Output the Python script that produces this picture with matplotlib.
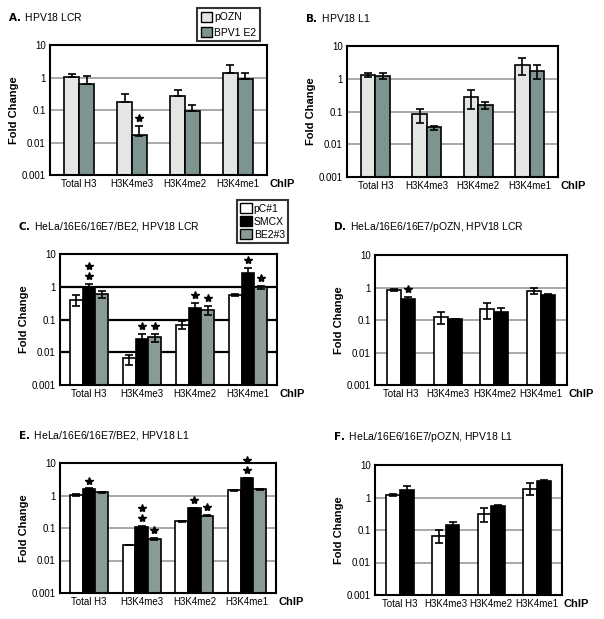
import numpy as np
import matplotlib.pyplot as plt
from matplotlib.ticker import FixedLocator

plt.rcParams['font.family'] = ['Liberation Sans', 'DejaVu Sans']

chip = ['Total H3', 'H3K4me3', 'H3K4me2', 'H3K4me1']
ytick_vals = [0.001, 0.01, 0.1, 1, 10]
ytick_labels = ['0.001', '0.01', '0.1', '1', '10']

# A. HPV18 LCR (pOZN / BPV1 E2), error = upper end of bar
a_names = ['pOZN', 'BPV1 E2']
a_vals = [[1.05, 0.18, 0.27, 1.4], [0.65, 0.016, 0.09, 0.9]]
a_lo = [[1.05, 0.18, 0.27, 1.4], [0.65, 0.016, 0.09, 0.9]]
a_hi = [[1.3, 0.3, 0.42, 2.4], [1.15, 0.032, 0.14, 1.4]]
a_star = [[0, 0, 0, 0], [0, 1, 0, 0]]

# B. HPV18 L1
b_vals = [[1.3, 0.08, 0.28, 2.6], [1.2, 0.032, 0.16, 1.7]]
b_lo = [[1.15, 0.045, 0.12, 1.3], [0.95, 0.028, 0.12, 1.0]]
b_hi = [[1.45, 0.12, 0.45, 4.3], [1.5, 0.036, 0.2, 2.6]]
b_star = [[0, 0, 0, 0], [0, 0, 0, 0]]

# C. HeLa/16E6/16E7/BE2, HPV18 LCR
c_names = ['pC#1', 'SMCX', 'BE2#3']
c_vals = [[0.38, 0.0055, 0.065, 0.55], [1.0, 0.024, 0.23, 2.7], [0.62, 0.028, 0.19, 0.95]]
c_lo = [[0.25, 0.004, 0.05, 0.52], [0.85, 0.016, 0.15, 1.8], [0.45, 0.02, 0.14, 0.85]]
c_hi = [[0.55, 0.008, 0.09, 0.58], [1.2, 0.035, 0.33, 3.7], [0.75, 0.037, 0.26, 1.05]]
c_star = [[0, 0, 0, 0], [2, 1, 1, 1], [0, 1, 1, 1]]

# D. HeLa/16E6/16E7/pOZN, HPV18 LCR
d_vals = [[0.85, 0.12, 0.21, 0.8], [0.45, 0.105, 0.17, 0.6]]
d_lo = [[0.8, 0.075, 0.11, 0.65], [0.4, 0.1, 0.1, 0.55]]
d_hi = [[0.9, 0.18, 0.33, 0.95], [0.5, 0.11, 0.23, 0.65]]
d_star = [[0, 0, 0, 0], [1, 0, 0, 0]]

# E. HeLa/16E6/16E7/BE2, HPV18 L1
e_vals = [[1.05, 0.03, 0.16, 1.45], [1.6, 0.11, 0.4, 3.4], [1.25, 0.045, 0.24, 1.55]]
e_lo = [[1.0, 0.03, 0.15, 1.4], [1.55, 0.105, 0.38, 3.3], [1.2, 0.042, 0.23, 1.5]]
e_hi = [[1.1, 0.03, 0.17, 1.5], [1.65, 0.115, 0.42, 3.5], [1.3, 0.048, 0.25, 1.6]]
e_star = [[0, 0, 0, 0], [1, 2, 1, 2], [0, 1, 1, 0]]

# F. HeLa/16E6/16E7/pOZN, HPV18 L1
f_vals = [[1.2, 0.065, 0.32, 1.8], [1.65, 0.14, 0.55, 3.3]]
f_lo = [[1.15, 0.04, 0.18, 1.2], [1.2, 0.11, 0.5, 3.1]]
f_hi = [[1.25, 0.1, 0.48, 2.7], [2.2, 0.18, 0.6, 3.5]]
f_star = [[0, 0, 0, 0], [0, 0, 0, 0]]

col_ab = ['#e4e6e4', '#7e9490']
col_c = ['white', 'black', '#8a9a97']
col_d = ['white', 'black']


def panel(rect, title, vals, lo, hi, stars, colors, grid_color, width):
    ax = fig.add_axes(rect)
    x = np.arange(len(chip))
    n = len(vals)
    for g in [1, 0.1, 0.01]:
        ax.axhline(g, color=grid_color, lw=1.6 if grid_color == 'black' else 1.2, zorder=0)
    for i in range(n):
        xs = x + (i - (n - 1) / 2) * width
        v = np.array(vals[i])
        ax.bar(xs, v, width=width, bottom=0.001, color=colors[i], edgecolor='black',
               linewidth=1.2, zorder=2)
        err = [v - np.array(lo[i]), np.array(hi[i]) - v]
        ax.errorbar(xs, v, yerr=err, fmt='none', ecolor='black', elinewidth=1.2,
                    capsize=3, capthick=1.2, zorder=3)
        for j in range(len(chip)):
            for k in range(stars[i][j]):
                ax.plot(xs[j], hi[i][j] * 1.75 * (2.0 ** k), marker='*', color='black',
                        markersize=6, zorder=4, clip_on=False)
    ax.set_yscale('log')
    ax.set_ylim(0.001, 10)
    ax.set_xlim(-0.55, 3.55)
    ax.yaxis.set_major_locator(FixedLocator(ytick_vals))
    ax.set_yticklabels(ytick_labels)
    ax.yaxis.set_minor_locator(FixedLocator([]))
    ax.set_xticks(x)
    ax.set_xticklabels(chip)
    ax.tick_params(length=0, labelsize=7, pad=3)
    for s in ax.spines.values():
        s.set_linewidth(1.5)
    ax.set_ylabel('Fold Change', fontsize=8, fontweight='bold', labelpad=2)
    ax.text(1.01, -0.07, 'ChIP', transform=ax.transAxes, fontsize=8, fontweight='bold',
            ha='left', va='center')
    fig.text(rect[0] - 0.07, rect[1] + rect[3] + 0.045, title, fontsize=7.5,
             ha='left', va='center')
    return ax


fig = plt.figure(figsize=(6.04, 6.19), dpi=100)
W, H = 604, 619


def r(x0, y0, x1, y1):
    return [x0 / W, 1 - y1 / H, (x1 - x0) / W, (y1 - y0) / H]


axA = panel(r(50, 45, 267, 175), r'$\bf{A.}$ HPV18 LCR', a_vals, a_lo, a_hi, a_star,
            col_ab, '#9a9a9a', 0.28)
axB = panel(r(347, 46, 558, 177), r'$\bf{B.}$ HPV18 L1', b_vals, b_lo, b_hi, b_star,
            col_ab, '#9a9a9a', 0.28)
axC = panel(r(60, 254, 277, 385), r'$\bf{C.}$ HeLa/16E6/16E7/BE2, HPV18 LCR', c_vals, c_lo,
            c_hi, c_star, col_c, 'black', 0.24)
axD = panel(r(375, 255, 567, 385), r'$\bf{D.}$ HeLa/16E6/16E7/pOZN, HPV18 LCR', d_vals,
            d_lo, d_hi, d_star, col_d, '#9a9a9a', 0.3)
axE = panel(r(60, 463, 276, 593), r'$\bf{E.}$ HeLa/16E6/16E7/BE2, HPV18 L1', e_vals, e_lo,
            e_hi, e_star, col_c, '#9a9a9a', 0.24)
axF = panel(r(375, 465, 562, 595), r'$\bf{F.}$ HeLa/16E6/16E7/pOZN, HPV18 L1', f_vals,
            f_lo, f_hi, f_star, col_d, '#9a9a9a', 0.3)

# legends
legA = fig.legend([plt.Rectangle((0, 0), 1, 1, fc=c, ec='black') for c in col_ab], a_names,
                  loc='upper left', bbox_to_anchor=(197 / W, 1 - 8 / H), fontsize=7.5,
                  frameon=True, fancybox=False, edgecolor='black', handlelength=1.1,
                  handleheight=1.2, handletextpad=0.2, borderpad=0.35, labelspacing=0.4,
                  borderaxespad=0)
legA.get_frame().set_linewidth(1.5)
legC = fig.legend([plt.Rectangle((0, 0), 1, 1, fc=c, ec='black') for c in col_c], c_names,
                  loc='upper left', bbox_to_anchor=(237 / W, 1 - 200 / H), fontsize=7.5,
                  frameon=True, fancybox=False, edgecolor='black', handlelength=1.1,
                  handleheight=1.1, handletextpad=0.2, borderpad=0.3, labelspacing=0.25,
                  borderaxespad=0)
legC.get_frame().set_linewidth(1.5)

fig.savefig('out.png', dpi=100)
